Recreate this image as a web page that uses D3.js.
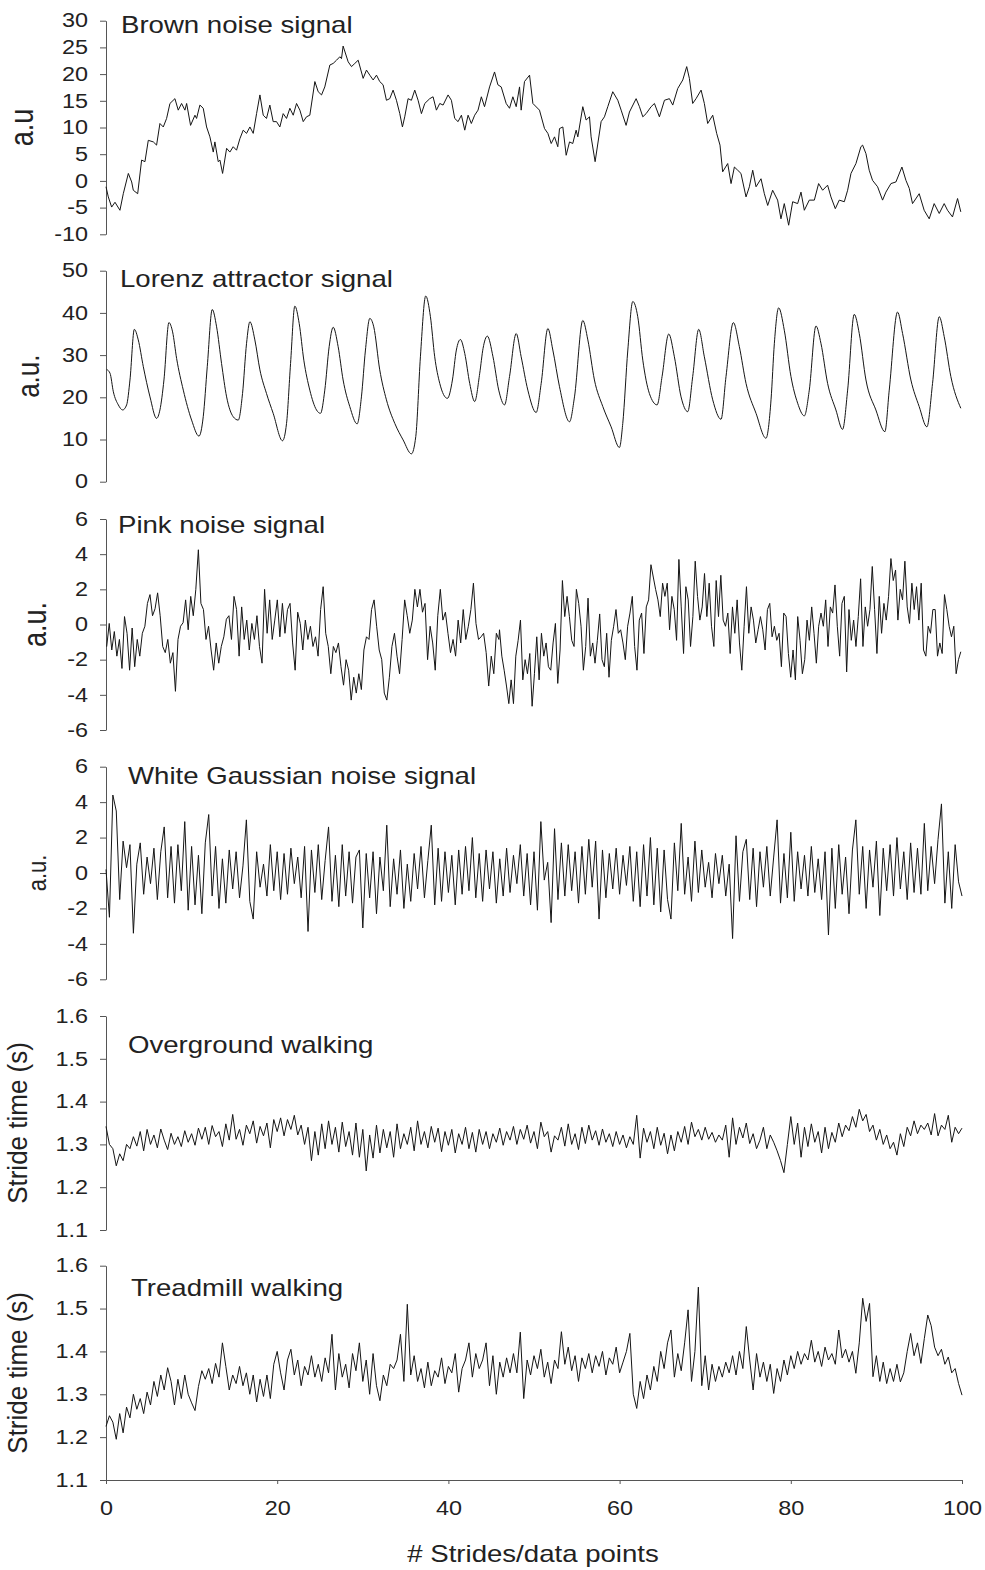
<!DOCTYPE html>
<html>
<head>
<meta charset="utf-8">
<script src="https://cdn.jsdelivr.net/npm/d3@7"></script>
<style>
body { margin: 0; background: #fff; }
svg text { font-family: Arial, "Liberation Sans", sans-serif; fill: #222; }
</style>
</head>
<body>
<svg id="chart" width="985" height="1570"></svg>
<script>
"use strict";

// x positions are in "# strides/data points" units (0-100)
var brown = [
	[0,-1.1],[0.27,-3],[0.66,-4.9],[1.05,-4],[1.63,-5.5],[2.02,-2.4],[2.61,1.4],[3.0,-0.2],[3.19,-1.75],[3.7,-2.4],
	[4.16,3.9],[4.55,3.6],[4.94,7.6],[5.53,7.3],[5.91,6.7],[6.3,10.75],[6.69,10.1],[7.08,11.7],[7.47,14.5],[8.05,15.4],
	[8.44,13.25],[8.83,14.5],[9.22,13.25],[9.42,14.5],[9.88,10.4],[10.39,12.3],[10.58,11.7],[10.97,14.2],[11.36,13.6],[11.75,10.1],
	[12.14,8.25],[12.53,5.4],[12.72,7.3],[13.11,3.6],[13.31,3.9],[13.62,1.4],[14.09,6.1],[14.47,5.4],[14.86,6.4],[15.25,5.75],
	[15.64,7.9],[16.03,9.5],[16.42,8.9],[16.81,10.1],[17.2,8.9],[17.59,12.6],[17.98,16.1],[18.37,12.3],[18.75,11.7],[19.14,14.2],
	[19.53,11.1],[19.92,11.1],[20.31,10.1],[20.7,12.6],[21.09,11.7],[21.48,13.6],[21.87,12.3],[22.26,14.5],[22.65,13.25],[23.04,11.1],
	[23.42,12],[23.81,12.3],[24.4,18.6],[24.79,16.7],[25.18,16.1],[25.56,17.6],[26.15,21.7],[26.54,22],[26.93,22.6],[27.32,23.25],
	[27.51,22.9],[27.7,25.25],[28.29,22.3],[28.68,21.4],[29.07,22],[29.46,22.6],[30.04,19.2],[30.43,20.75],[30.82,19.8],[31.21,18.9],
	[31.6,19.8],[31.98,18.6],[32.37,18],[32.76,15.1],[33.15,15.4],[33.54,17],[33.93,15.1],[34.32,12.6],[34.63,10.1],[34.9,12],
	[35.29,15.4],[35.68,15.1],[36.07,17],[36.46,15.1],[36.85,12.6],[37.24,14.5],[37.82,15.4],[38.21,15.75],[38.6,13.25],[38.99,14.5],
	[39.38,14.2],[39.96,16.1],[40.35,15.1],[40.74,11.7],[41.13,11.1],[41.52,12.3],[41.91,9.5],[42.3,12.3],[42.68,10.75],[43.07,12.3],
	[43.46,13.25],[43.85,15.75],[44.22,13.9],[44.81,17.6],[45.39,20.4],[45.78,18],[46.17,17.6],[46.75,14.5],[47.14,13.6],[47.53,15.75],
	[47.92,13.9],[48.31,17.6],[48.5,13.25],[48.89,18.6],[49.48,19.8],[49.87,14.5],[50.64,13.25],[51.23,9.8],[51.62,8.9],[52.01,7],
	[52.4,8.25],[52.78,6.4],[52.98,9.8],[53.37,10.1],[53.76,4.8],[54.15,7.3],[54.53,7],[54.92,9.5],[55.12,8.25],[55.7,13.9],
	[56.09,11.4],[56.48,12],[56.67,8.25],[57.14,3.6],[57.84,11.1],[58.23,12],[58.62,13.9],[59.2,16.7],[59.79,15.1],[60.18,13.25],
	[60.76,10.4],[61.15,12.9],[61.93,15.4],[62.32,13.9],[62.71,12],[63.1,12.6],[63.68,13.9],[64.07,14.5],[64.65,12],[65.24,15.1],
	[65.82,15.4],[66.21,14.2],[66.79,17.3],[67.38,18.9],[67.84,21.4],[68.15,19.2],[68.54,14.5],[68.93,15.4],[69.52,17],[69.9,14.5],
	[70.29,10.75],[70.88,12.3],[71.34,8.9],[71.73,6.7],[72.04,1.7],[72.63,3.25],[73.02,-0.5],[73.41,2.6],[73.8,2],[74.18,1.4],
	[74.77,-3],[75.16,-1.1],[75.55,2],[75.94,-1.1],[76.52,0.4],[76.91,-2.4],[77.3,-4.6],[77.88,-1.75],[78.46,-3.6],[78.85,-7.1],
	[79.24,-4.25],[79.75,-8.3],[80.22,-3.9],[80.8,-4.25],[81.19,-2.1],[81.58,-5.5],[82.16,-3.6],[82.75,-3.6],[83.25,-0.5],[83.72,-1.75],
	[84.3,-0.8],[84.69,-3],[85.2,-5.2],[85.66,-3.6],[86.25,-3.9],[86.64,-1.75],[87.03,1.4],[87.61,3.25],[88.19,6.4],[88.39,6.7],
	[88.78,5.1],[89.16,2],[89.55,0.1],[90.14,-1.1],[90.72,-3.6],[91.11,-2.1],[91.7,-0.5],[92.28,-0.2],[92.98,2.6],[93.45,0.1],
	[93.84,-1.4],[94.22,-4.25],[95.0,-2.4],[95.58,-5.5],[96.17,-7.1],[96.75,-4.25],[97.34,-6.1],[97.92,-4.25],[98.31,-5.5],[98.89,-6.75],
	[99.48,-3.3],[99.86,-5.8]
];

// peaks / troughs / shoulders of the Lorenz trace
var lorenz = [
	[0.08,26.6],[0.47,25.7],[0.86,21.3],[1.44,18.2],[1.95,17],[2.41,18.2],[2.8,24.1],[3.31,36.1],[3.77,33.6],[4.36,27.25],
	[5.14,20.1],[5.91,15],[6.3,17],[6.77,24.1],[7.35,37.7],[7.78,35.5],[8.25,29.2],[9.03,21.7],[10.0,14.6],[10.86,10.8],
	[11.36,15.4],[11.83,27.25],[12.41,40.8],[12.92,36.7],[13.5,28],[14.09,20.1],[14.86,15.4],[15.45,14.6],[15.95,20.9],[16.42,32.8],
	[16.81,37.9],[17.39,33.6],[17.98,26.5],[18.75,20.9],[19.53,16.2],[20.62,9.7],[21.09,13.8],[21.56,28],[22.06,41.6],[22.57,37.5],
	[23.11,28.8],[23.81,21.7],[24.59,17],[25.06,16.2],[25.56,21.7],[26.07,32],[26.54,36.6],[27.12,32],[27.7,24.1],[28.48,17.8],
	[29.34,13.7],[29.84,20.1],[30.31,31.2],[30.82,38.7],[31.28,36.7],[31.98,26.5],[32.76,19.4],[33.74,13.8],[34.71,9.9],[35.68,6.6],
	[36.19,10.7],[36.73,29.6],[37.35,44],[37.9,39.1],[38.4,29.6],[38.99,23.3],[39.88,19.75],[40.47,24.1],[40.93,31.2],[41.4,33.7],
	[41.91,30.4],[42.49,23.3],[43.07,19],[43.66,25.7],[44.05,31.6],[44.55,34.5],[45.21,29.6],[45.88,21.7],[46.56,18.2],[47.14,24.9],
	[47.92,35.1],[48.5,29.6],[49.28,21.7],[50.25,16.4],[50.84,23.3],[51.62,36.3],[52.2,31.2],[52.98,22.5],[54.15,14.2],[54.73,20.1],
	[55.7,38.2],[56.29,33.6],[57.06,24.1],[58.04,17.8],[59.01,13],[59.98,8.1],[60.37,13.8],[60.96,31.2],[61.54,42.7],[62.12,39.1],
	[62.71,28.8],[63.48,20.9],[64.38,18.2],[64.96,24.9],[65.74,35],[66.4,29.6],[67.18,20.1],[67.96,16.6],[68.54,24.9],[69.24,36.1],
	[69.9,29.6],[70.88,19.4],[71.85,14.8],[72.43,24.9],[73.29,37.7],[73.99,32],[74.77,23.3],[75.94,16.2],[77.1,10.3],[77.69,19.4],
	[78.08,32.8],[78.58,41.2],[79.24,35.9],[80.02,24.9],[80.8,18.6],[81.58,15.6],[82.16,21.7],[82.94,36.9],[83.52,32.8],[84.3,23.3],
	[85.27,17],[86.05,12.4],[86.64,21.7],[87.41,39.65],[88.0,35.1],[88.78,24.1],[89.94,17],[90.99,11.85],[91.5,21.7],[92.47,40.2],
	[93.06,35.1],[94.03,24.1],[95.0,17.8],[95.9,13],[96.56,23.3],[97.34,39.1],[97.92,34.4],[98.7,24.9],[99.86,17.4]
];

// pink noise, read at roughly even steps: first part spans 0-45.9, second part 45.9-100
var pinkSpanA = [0.08, 45.9];
var pinkA = [
	-1.26,0.06,-1.45,-0.4,-1.8,-0.85,-2.5,0.45,-0.5,-2.6, -0.2,-2.4,-0.85,-1.8,-0.5,-0.1,1.2,1.7,0.5,0.9,
	1.8,0.5,-1.25,-1.6,-0.85,-2.2,-1.6,-3.8,-0.85,-0.1, 0.1,1.4,-0.3,1.6,0.5,2,4.25,1.2,0.85,-0.85,
	-0.1,-1.45,-2.6,-1.05,-2.2,-1.25,-0.7,0.3,0.5,-0.85, 1.6,0.85,-1.8,1,-0.85,0.25,-1.45,0.06,-0.85,0.5,
	-1.25,-2.2,2,-0.5,1.4,-0.85,0.25,1.4,-0.7,1.2, -0.5,0.85,1.2,-1.05,-2.6,0.7,0.06,-1.45,0.25,-0.85,
	-0.1,-1.25,-0.7,-1.8,0.85,2.15,-0.5,-1.25,-2.8,-1.25, -1.6,-1.05,-2.4,-3.45,-2,-2.6,-4.3,-3,-3.9,-2.8,
	-3.7,-1.45,-0.7,-0.85,0.85,1.4,-0.1,-1.45,-2,-3.9, -4.3,-3,-1.25,-0.5,-1.8,-2.8,-0.85,1.4,0.5,-0.5,
	0.25,2,1,2,0.7,1.2,-2,-0.1,-1.05,-2.6, 0.5,2,0.25,0.7,-0.5,-1.6,-0.85,-1.8,0.25,-1.05,
	0.85,-0.85,-0.1,0.85,2.35,0.06,-0.85,-0.7,-0.5,-1.6, -3.5,-1.8,-2.8,-0.5,-0.85
];
var pinkSpanB = [45.97, 99.86];
var pinkB = [
	-0.3,-1.8,-2.6,-3.5,-4.5,-3.15,-4.5,-1.8,-0.9,0.25, -3.15,-2,-2.8,-1.65,-4.65,-2.8,-0.7,-3.15,-0.5,-1.8,
	-1.05,-2.4,-2.6,-1.05,0.06,-3.35,-1.45,2.5,0.45,1.6, 0.45,-0.9,-1.25,2,1.2,-0.1,-2.6,-1.25,1.5,-1.8,
	-1.05,-2.2,-0.9,0.6,-2,-2.4,-0.5,-3,-0.9,-0.1, 0.85,-0.5,-0.3,-1.05,-2,-0.1,0.65,1.6,-1.25,-2.6,
	0.25,0.65,-1.65,1,1.4,3.4,2.7,2,1.4,0.45, 2.35,1.6,2.35,-0.3,1.6,0.85,-0.9,3.7,1,-1.65,
	2.15,1.4,-1.25,0.45,3.6,1.6,0.25,1,2.9,0.45, 2.35,-0.1,-1.25,2.5,0.45,2.8,0.25,-0.1,0.65,-1.65,
	1,-0.5,1.4,-1.05,-2.6,-0.1,2.15,-0.5,1,0.25, -1.05,-0.3,0.45,-0.3,-1.45,0.85,1.2,-0.7,-0.1,-0.9,
	-0.5,-2.4,0.65,0.45,-1.65,-3,-1.45,-3.15,0.45,-0.9, -2.8,-2,0.25,-0.9,1,-0.5,-2.2,-0.1,0.65,-0.1,
	1.4,-1.25,1,0.65,2.25,-0.1,-1.8,1.2,1.6,-2.7, 0.85,-0.9,0.25,-1.25,0.45,2.6,-1.25,1,-0.1,0.85,
	3.3,0.85,-1.65,1.6,-0.5,1.2,0.25,1.6,3.75,2.5, 3.1,0.25,2,1.4,3.6,1,0.06,2.35,0.85,2.15,
	0.25,2.35,-1.45,-1.8,-0.1,-0.5,0.85,0.85,-1.8,-1.05, -1.65,1.7,0.85,-0.1,-0.7,-0.1,-2.8,-2,-1.55
];

// the next three series are read every 0.4 units from 0 to 100
var sampleStep = 0.4;
var white = [
	0.2,-2.5,4.4,3.5,-1.5,1.8,0.3,1.6,-3.4,0.5, 1.7,-1.2,0.9,-0.6,1.4,-1.5,1.2,2.6,-1.4,1.5,
	-1.7,1.6,-1.0,2.9,-2.1,1.5,-1.8,1.0,-2.3,1.7, 3.3,-1.3,1.5,-2.0,0.8,-1.7,1.3,-0.9,1.2,-1.4,
	0.4,3.0,-1.6,-2.6,1.2,-0.8,0.5,-1.3,1.6,-1.0, 1.2,-1.5,1.1,-1.2,1.4,-0.6,0.9,-1.4,1.5,-3.3,
	1.3,-1.1,1.6,-1.5,0.7,2.6,-1.6,1.0,-1.9,1.6, -1.3,1.2,-1.7,0.9,1.3,-3.1,1.1,-1.4,1.2,-2.3,
	0.9,-1.0,2.7,-1.9,0.8,-1.2,1.3,-2.0,0.5,-1.6, 1.1,-0.9,1.5,-1.4,0.7,2.7,-1.8,1.4,-1.6,1.2,
	-1.1,1.0,-1.8,1.3,-1.2,1.5,-1.0,2.0,-1.4,1.1, -1.6,1.3,-0.9,1.2,-1.7,0.8,-1.3,1.4,-1.1,1.0,
	-0.6,1.6,-1.3,1.1,-1.8,1.2,-2.1,2.9,-0.4,0.6, -2.8,2.5,-1.5,1.7,-1.3,1.6,-1.0,1.2,-1.7,1.5,
	-1.2,1.9,-0.8,1.8,-2.6,1.3,-1.4,1.1,-0.9,1.4, -1.2,1.0,-0.7,1.5,-1.6,1.2,-1.9,1.6,-1.3,2.0,
	-1.8,1.4,-2.2,1.3,-1.5,-2.6,1.7,-1.0,2.8,-1.2, 0.9,-1.6,1.8,-1.1,1.3,-0.8,0.6,-1.4,1.1,-0.6,
	1.0,-1.3,0.5,-3.7,2.1,-1.6,1.2,1.9,-1.5,1.4, -1.9,1.2,-0.8,1.5,-1.3,0.9,3.0,-1.7,1.1,-1.4,
	2.3,-1.6,1.2,-0.9,1.0,-1.3,1.5,-1.1,0.8,-1.5, 1.2,-3.5,1.4,-2.0,1.6,-1.2,0.9,-2.3,1.3,3.0,
	-1.2,1.5,-2.0,1.3,-0.8,1.8,-2.4,1.4,-1.0,1.6, -1.3,2.0,-0.9,1.2,-1.5,1.7,-1.1,1.4,-1.2,2.8,
	-1.0,1.5,-0.6,1.9,3.9,-1.7,1.2,-2.0,1.6,-0.5, -1.3
];
var overground = [
	1.342,1.300,1.290,1.250,1.278,1.262,1.300,1.290,1.318,1.296, 1.330,1.285,1.335,1.300,1.322,1.292,1.336,1.310,1.288,1.326,
	1.300,1.318,1.295,1.332,1.305,1.325,1.298,1.338,1.312,1.340, 1.300,1.344,1.318,1.330,1.295,1.348,1.310,1.370,1.312,1.335,
	1.298,1.345,1.325,1.355,1.303,1.342,1.320,1.350,1.292,1.358, 1.330,1.362,1.320,1.358,1.335,1.368,1.322,1.345,1.300,1.340,
	1.262,1.330,1.275,1.348,1.290,1.355,1.300,1.340,1.282,1.352, 1.295,1.330,1.275,1.350,1.270,1.335,1.238,1.322,1.268,1.345,
	1.280,1.335,1.292,1.330,1.270,1.348,1.290,1.325,1.300,1.340, 1.285,1.355,1.300,1.330,1.292,1.342,1.305,1.338,1.283,1.330,
	1.298,1.335,1.280,1.325,1.300,1.340,1.290,1.328,1.282,1.335, 1.300,1.330,1.290,1.325,1.305,1.338,1.298,1.330,1.310,1.342,
	1.300,1.335,1.312,1.345,1.303,1.330,1.290,1.352,1.318,1.330, 1.282,1.320,1.310,1.340,1.296,1.348,1.300,1.325,1.288,1.340,
	1.302,1.345,1.310,1.332,1.298,1.336,1.305,1.325,1.295,1.330, 1.300,1.322,1.292,1.318,1.300,1.368,1.268,1.338,1.305,1.330,
	1.290,1.340,1.298,1.326,1.278,1.322,1.285,1.330,1.305,1.342, 1.300,1.352,1.318,1.335,1.310,1.340,1.312,1.328,1.305,1.322,
	1.310,1.345,1.270,1.362,1.300,1.340,1.315,1.350,1.302,1.325, 1.290,1.310,1.340,1.290,1.322,1.305,1.285,1.262,1.234,1.300,
	1.365,1.300,1.350,1.270,1.340,1.295,1.348,1.305,1.330,1.280, 1.340,1.290,1.328,1.305,1.350,1.318,1.345,1.332,1.365,1.340,
	1.382,1.355,1.370,1.330,1.345,1.310,1.335,1.300,1.322,1.290, 1.305,1.275,1.325,1.295,1.340,1.320,1.355,1.325,1.345,1.335,
	1.350,1.322,1.372,1.320,1.345,1.335,1.368,1.305,1.340,1.325, 1.338
];
var treadmill = [
	1.225,1.250,1.235,1.195,1.255,1.210,1.270,1.245,1.300,1.265, 1.290,1.255,1.305,1.275,1.330,1.295,1.345,1.310,1.362,1.330,
	1.275,1.335,1.290,1.345,1.300,1.280,1.262,1.318,1.355,1.335, 1.360,1.325,1.372,1.340,1.420,1.365,1.310,1.345,1.325,1.365,
	1.320,1.350,1.300,1.345,1.282,1.335,1.295,1.345,1.290,1.370, 1.400,1.350,1.310,1.380,1.405,1.345,1.380,1.320,1.365,1.345,
	1.390,1.340,1.370,1.330,1.385,1.350,1.440,1.310,1.395,1.340, 1.370,1.315,1.395,1.355,1.420,1.330,1.380,1.300,1.395,1.320,
	1.285,1.345,1.320,1.370,1.360,1.380,1.440,1.330,1.510,1.345, 1.390,1.330,1.360,1.315,1.375,1.320,1.355,1.340,1.385,1.325,
	1.365,1.350,1.395,1.305,1.360,1.380,1.420,1.340,1.395,1.360, 1.380,1.420,1.320,1.390,1.300,1.375,1.340,1.385,1.350,1.395,
	1.350,1.445,1.290,1.380,1.345,1.390,1.360,1.405,1.340,1.375, 1.325,1.380,1.360,1.446,1.370,1.410,1.355,1.390,1.330,1.385,
	1.360,1.395,1.350,1.390,1.365,1.400,1.345,1.385,1.370,1.410, 1.350,1.375,1.400,1.442,1.300,1.267,1.330,1.290,1.345,1.310,
	1.365,1.330,1.400,1.360,1.420,1.450,1.340,1.395,1.355,1.420, 1.497,1.330,1.400,1.550,1.320,1.390,1.310,1.370,1.330,1.365,
	1.340,1.375,1.350,1.390,1.345,1.400,1.360,1.458,1.380,1.310, 1.395,1.340,1.375,1.330,1.370,1.302,1.360,1.330,1.380,1.345,
	1.390,1.360,1.400,1.370,1.395,1.380,1.426,1.375,1.400,1.365, 1.410,1.380,1.395,1.370,1.450,1.385,1.405,1.375,1.400,1.349,
	1.420,1.524,1.470,1.512,1.341,1.390,1.330,1.375,1.325,1.360, 1.330,1.370,1.329,1.350,1.400,1.442,1.390,1.420,1.372,1.430,
	1.485,1.460,1.410,1.390,1.405,1.370,1.387,1.350,1.360,1.325, 1.298
];

var xTicks = [0, 20, 40, 60, 80, 100];

// turn the plain value lists into [x, value] points
function spread(values, span) {
	var step = (span[1] - span[0]) / (values.length - 1);
	return values.map(function (v, i) { return [span[0] + i * step, v]; });
}
function stepped(values) {
	return values.map(function (v, i) { return [i * sampleStep, v]; });
}

// plain hyphen for negatives, like the original figure
var intFmt = function (d) { return String(d); };
var oneDec = function (d) { return d.toFixed(1); };

// == layout ==
var SX = 1.2; // the picture is a bit stretched sideways, text follows it
var svg = d3.select("#chart");
var x = d3.scaleLinear().domain([0, 100]).range([106, 962]);

var panels = [
	{ title: "Brown noise signal", tx: 121, ty: 33, label: "a.u", lx: 22, ls: 27, lsx: SX,
		top: 20.7, bottom: 234.3, domain: [-10, 30], ticks: d3.range(-10, 31, 5), fmt: intFmt,
		points: brown, curve: d3.curveLinear },
	{ title: "Lorenz attractor signal", tx: 120, ty: 287, label: "a.u.", lx: 28, ls: 26, lsx: SX,
		top: 270.7, bottom: 481.7, domain: [0, 50], ticks: d3.range(0, 51, 10), fmt: intFmt,
		points: lorenz, curve: d3.curveMonotoneX },
	{ title: "Pink noise signal", tx: 118, ty: 533, label: "a.u.", lx: 35, ls: 27, lsx: SX,
		top: 519, bottom: 730, domain: [-6, 6], ticks: d3.range(-6, 7, 2), fmt: intFmt,
		points: spread(pinkA, pinkSpanA).concat(spread(pinkB, pinkSpanB)), curve: d3.curveLinear },
	{ title: "White Gaussian noise signal", tx: 128, ty: 784, label: "a.u.", lx: 37, ls: 22, lsx: SX,
		top: 766.7, bottom: 979.3, domain: [-6, 6], ticks: d3.range(-6, 7, 2), fmt: intFmt,
		points: stepped(white), curve: d3.curveLinear },
	{ title: "Overground walking", tx: 128, ty: 1053, label: "Stride time (s)", lx: 17, ls: 26, lsx: 1.05,
		top: 1016, bottom: 1230, domain: [1.1, 1.6], ticks: [1.1, 1.2, 1.3, 1.4, 1.5, 1.6], fmt: oneDec,
		points: stepped(overground), curve: d3.curveLinear },
	{ title: "Treadmill walking", tx: 131, ty: 1296, label: "Stride time (s)", lx: 17, ls: 26, lsx: 1.05,
		top: 1265.7, bottom: 1480, domain: [1.1, 1.6], ticks: [1.1, 1.2, 1.3, 1.4, 1.5, 1.6], fmt: oneDec,
		points: stepped(treadmill), curve: d3.curveLinear }
];

function stretchText(sel) {
	sel.each(function () {
		var t = d3.select(this);
		var tx = +t.attr("x") || 0, ty = +t.attr("y") || 0;
		t.attr("x", 0).attr("y", 0)
			.attr("transform", "translate(" + tx + "," + ty + ") scale(" + SX + ",1)");
	});
}

panels.forEach(function (p) {
	var y = d3.scaleLinear().domain(p.domain).range([p.bottom, p.top]);

	var ax = svg.append("g")
		.attr("transform", "translate(" + x(0) + ",0)")
		.call(d3.axisLeft(y).tickValues(p.ticks).tickFormat(p.fmt)
			.tickSize(6).tickSizeOuter(0).tickPadding(12));
	ax.attr("font-size", 19.5).attr("font-family", null);
	ax.select(".domain").attr("stroke", "#555");
	ax.selectAll(".tick line").attr("stroke", "#555");
	ax.selectAll(".tick text").attr("fill", "#222");
	stretchText(ax.selectAll(".tick text"));

	var line = d3.line()
		.x(function (d) { return x(d[0]); })
		.y(function (d) { return y(d[1]); })
		.curve(p.curve);

	svg.append("path")
		.datum(p.points)
		.attr("d", line)
		.attr("fill", "none")
		.attr("stroke", "#151515")
		.attr("stroke-width", 1)
		.attr("stroke-linejoin", "round");

	svg.append("text")
		.attr("transform", "translate(" + p.tx + "," + p.ty + ") scale(" + SX + ",1)")
		.attr("font-size", 23)
		.text(p.title);

	svg.append("text")
		.attr("transform", "translate(" + p.lx + "," + ((p.top + p.bottom) / 2) + ") rotate(-90) scale(1," + p.lsx + ")")
		.attr("text-anchor", "middle")
		.attr("dy", "0.35em")
		.attr("font-size", p.ls)
		.text(p.label);

	if (p === panels[panels.length - 1]) {
		var bx = svg.append("g")
			.attr("transform", "translate(0," + p.bottom + ")")
			.call(d3.axisBottom(x).tickValues(xTicks).tickSize(4).tickSizeOuter(0).tickPadding(17));
		bx.attr("font-size", 19.5).attr("font-family", null);
		bx.select(".domain").attr("stroke", "#555");
		bx.selectAll(".tick line").attr("stroke", "#555");
		bx.selectAll(".tick text").attr("fill", "#222");
		stretchText(bx.selectAll(".tick text"));
	}
});

svg.append("text")
	.attr("transform", "translate(533,1562) scale(" + SX + ",1)")
	.attr("text-anchor", "middle")
	.attr("font-size", 23)
	.text("# Strides/data points");
</script>
</body>
</html>
